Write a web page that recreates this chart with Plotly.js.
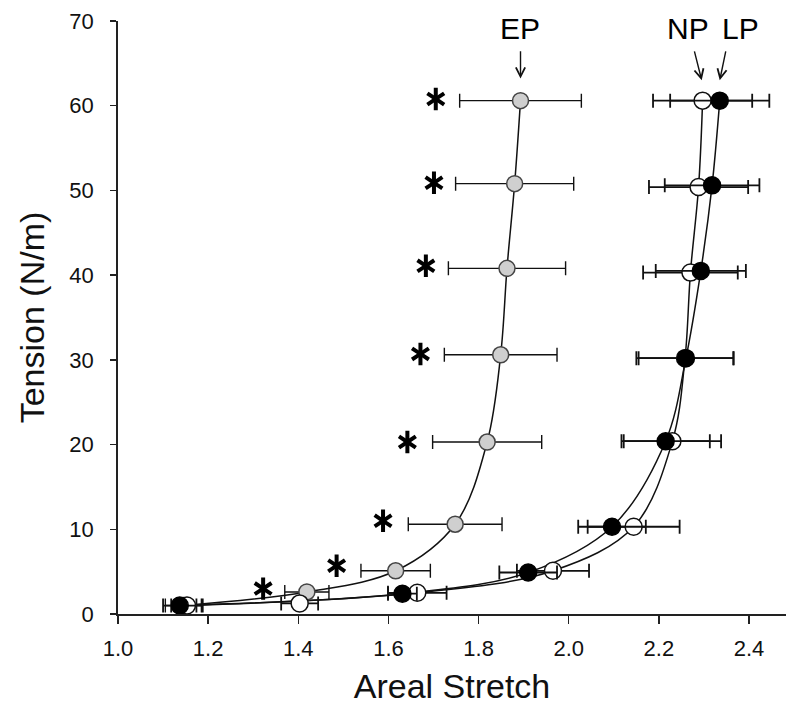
<!DOCTYPE html>
<html>
<head>
<meta charset="utf-8">
<script src="https://cdn.plot.ly/plotly-3.0.1.min.js"></script>
<style>
  html, body { margin: 0; padding: 0; background: #fff; }
  #chart { width: 786px; height: 709px; }
</style>
</head>
<body>
<div id="chart"></div>
<script>
// ---- Data ----
// EP (grey, stippled markers)
const epX   = [1.145, 1.419, 1.616, 1.748, 1.819, 1.849, 1.863, 1.880, 1.893];
const epY   = [1.0,   2.6,   5.1,   10.6,  20.3,  30.6,  40.8,  50.8,  60.6];
const epErr = [0.040, 0.049, 0.077, 0.104, 0.121, 0.125, 0.130, 0.131, 0.135];

// NP (open markers)
const npX   = [1.153, 1.403, 1.664, 1.965, 2.144, 2.230, 2.258, 2.270, 2.288, 2.297];
const npY   = [1.0,   1.25,  2.5,   5.1,   10.3,  20.4,  30.2,  40.3,  50.4,  60.6];
const npErr = [0.035, 0.041, 0.065, 0.080, 0.102, 0.108, 0.108, 0.105, 0.110, 0.110];

// LP (filled black markers)
const lpX   = [1.137, 1.631, 1.910, 2.096, 2.215, 2.260, 2.293, 2.318, 2.335];
const lpY   = [1.0,   2.4,   4.9,   10.3,  20.4,  30.2,  40.5,  50.6,  60.6];
const lpErr = [0.037, 0.032, 0.064, 0.075, 0.098, 0.105, 0.100, 0.105, 0.110];

// fitted curves
const epCurveX = epX, epCurveY = epY;
const npCurveX = [1.153, 1.664, 1.965, 2.144, 2.230, 2.258, 2.270, 2.288, 2.297];
const npCurveY = [1.0,   2.5,   5.1,   10.3,  20.4,  30.2,  40.3,  50.4,  60.6];
const lpCurveX = lpX, lpCurveY = lpY;

// significance asterisks
const starX = [1.322, 1.485, 1.588, 1.642, 1.671, 1.683, 1.701, 1.705];
const starY = [3.0,   5.7,   11.0,  20.3,  30.7,  41.1,  50.9,  60.8];

// axis ticks
const xTicks = [1.0, 1.2, 1.4, 1.6, 1.8, 2.0, 2.2, 2.4];
const yTicks = [0, 10, 20, 30, 40, 50, 60, 70];

// group labels and their arrows
const groupLabels = ["EP", "NP", "LP"];
const labelX = [1.891, 2.265, 2.380];
const labelY = [69.1, 69.1, 69.1];
const arrowTailX = [1.893, 2.278, 2.349];
const arrowTailY = [66.6, 66.6, 66.6];
const arrowTipX  = [1.893, 2.295, 2.335];
const arrowTipY  = [63.2, 63.0, 63.0];

const FONT = "Liberation Sans, Arial, sans-serif";

function curve(x, y) {
  return { x: x, y: y, type: "scatter", mode: "lines",
           line: { color: "#111", width: 1.5, shape: "spline", smoothing: 1 },
           hoverinfo: "skip", showlegend: false, cliponaxis: false };
}
function pts(x, y, err, fill, outline, size, ew) {
  return { x: x, y: y, type: "scatter", mode: "markers",
           marker: { size: size, color: fill, line: { color: outline, width: 1.5 } },
           error_x: { type: "data", array: err, visible: true, color: "#111",
                      thickness: ew, width: 7 },
           showlegend: false, cliponaxis: false };
}
function stars(sym) {
  return { x: starX, y: starY, type: "scatter", mode: "markers",
    marker: { symbol: sym, size: 14, color: "#000", line: { color: "#000", width: 4 } },
    showlegend: false, cliponaxis: false };
}

const traces = [
  curve(epCurveX, epCurveY),
  curve(npCurveX, npCurveY),
  curve(lpCurveX, lpCurveY),
  pts(epX, epY, epErr, "#cfcfcf", "#444", 16, 1.4),
  pts(npX, npY, npErr, "#ffffff", "#111", 17, 1.8),
  pts(lpX, lpY, lpErr, "#000000", "#000", 17, 1.8),
  stars("y-up-open"),
  stars("y-down-open")
];

const annotations = [];
for (let i = 0; i < groupLabels.length; i++) {
  annotations.push({ x: labelX[i], y: labelY[i], xref: "x", yref: "y",
    text: groupLabels[i], showarrow: false, xanchor: "center", yanchor: "middle",
    font: { family: FONT, size: 30, color: "#000" } });
  annotations.push({ x: arrowTipX[i], y: arrowTipY[i], xref: "x", yref: "y",
    ax: arrowTailX[i], ay: arrowTailY[i], axref: "x", ayref: "y",
    text: "", showarrow: true, arrowhead: 5, arrowsize: 1.3, arrowwidth: 1.4,
    arrowcolor: "#111", standoff: 0, startstandoff: 0 });
}

const layout = {
  width: 786, height: 709,
  margin: { l: 118, r: 0, t: 21, b: 95, pad: 0 },
  paper_bgcolor: "#fff", plot_bgcolor: "#fff",
  font: { family: FONT, color: "#000" },
  showlegend: false,
  xaxis: {
    range: [1.0, 2.482], tickvals: xTicks, tickformat: ".1f",
    showline: true, linecolor: "#222", linewidth: 1.8,
    ticks: "outside", ticklen: 8, tickwidth: 1.5, tickcolor: "#222",
    showgrid: false, zeroline: false,
    tickfont: { family: FONT, size: 22, color: "#111" },
    ticklabelstandoff: 6,
    title: { text: "Areal Stretch", font: { family: FONT, size: 34, color: "#111" }, standoff: 14 }
  },
  yaxis: {
    range: [0, 70], tickvals: yTicks,
    showline: true, linecolor: "#222", linewidth: 1.8,
    ticks: "outside", ticklen: 6, tickwidth: 1.5, tickcolor: "#222",
    showgrid: false, zeroline: false,
    tickfont: { family: FONT, size: 22, color: "#111" },
    ticklabelstandoff: 12,
    title: { text: "Tension (N/m)", font: { family: FONT, size: 34, color: "#111" }, standoff: 14 }
  },
  annotations: annotations
};

Plotly.newPlot("chart", traces, layout, { displayModeBar: false, staticPlot: true });
</script>
</body>
</html>
